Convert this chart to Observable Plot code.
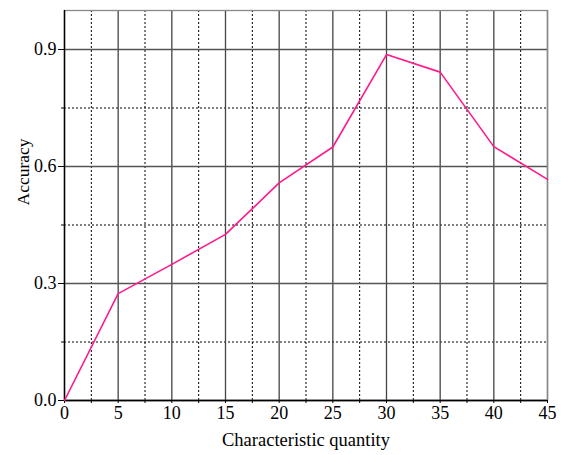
<!DOCTYPE html>
<html>
<head>
<meta charset="utf-8">
<script src="https://cdn.jsdelivr.net/npm/d3@7"></script>
<script src="https://cdn.jsdelivr.net/npm/@observablehq/plot@0.6"></script>
<style>
  html, body { margin: 0; padding: 0; background: #fff; }
  svg { font-family: "Liberation Serif", "Times New Roman", serif; }
</style>
</head>
<body>
<div id="chart"></div>
<script>
const quantity = [0, 5, 10, 15, 20, 25, 30, 35, 40, 45];
const accuracy = [0.0, 0.274, 0.349, 0.426, 0.558, 0.65, 0.887, 0.842, 0.651, 0.567];
const xMajorTicks = [0, 5, 10, 15, 20, 25, 30, 35, 40, 45];
const xMinorTicks = [2.5, 7.5, 12.5, 17.5, 22.5, 27.5, 32.5, 37.5, 42.5];
const yMajorTicks = [0, 0.3, 0.6, 0.9];
const yMinorTicks = [0.15, 0.45, 0.75];
const xTitle = "Characteristic quantity";
const yTitle = "Accuracy";

const data = quantity.map((q, i) => ({q, a: accuracy[i]}));

const chart = Plot.plot({
  width: 565,
  height: 455,
  marginLeft: 64,
  marginRight: 18,
  marginTop: 10,
  marginBottom: 55,
  style: {fontFamily: "Liberation Serif, serif", fontSize: "18px", background: "#fff"},
  x: {domain: [0, 45]},
  y: {domain: [0, 1.0]},
  marks: [
    Plot.ruleX(xMinorTicks, {stroke: "#000", strokeWidth: 1, strokeDasharray: "2,2"}),
    Plot.ruleY(yMinorTicks, {stroke: "#000", strokeWidth: 1, strokeDasharray: "2,2"}),
    Plot.ruleX(xMajorTicks, {stroke: "#444", strokeWidth: 1.3}),
    Plot.ruleY(yMajorTicks, {stroke: "#555", strokeWidth: 1.3}),
    Plot.frame({stroke: "#888", strokeWidth: 1.3}),
    Plot.ruleX([0], {stroke: "#000", strokeWidth: 1.3}),
    Plot.ruleY([0], {stroke: "#000", strokeWidth: 1.3}),
    Plot.axisY(yMinorTicks, {tickSize: 3, tickFormat: () => "", label: null, stroke: "#000"}),
    Plot.axisY(yMajorTicks, {
      tickSize: 6, tickPadding: 2, tickFormat: d3.format(".1f"), fontSize: 18, label: null, stroke: "#000"
    }),
    Plot.axisX(xMinorTicks, {tickSize: 3, tickFormat: () => "", label: null, stroke: "#000"}),
    Plot.axisX(xMajorTicks, {
      tickSize: 3, tickPadding: 3, tickFormat: d3.format("d"), fontSize: 18, label: null, stroke: "#000"
    }),
    Plot.text([xTitle], {frameAnchor: "bottom", dy: 45, text: d => d, fontSize: 18.5, fill: "#000"}),
    Plot.text([yTitle], {frameAnchor: "left", dx: -41, rotate: -90, text: d => d, fontSize: 17.5, fill: "#000"}),
    Plot.line(data, {x: "q", y: "a", stroke: "#ff1a8c", strokeWidth: 1.6})
  ]
});
document.getElementById("chart").appendChild(chart);
</script>
</body>
</html>
